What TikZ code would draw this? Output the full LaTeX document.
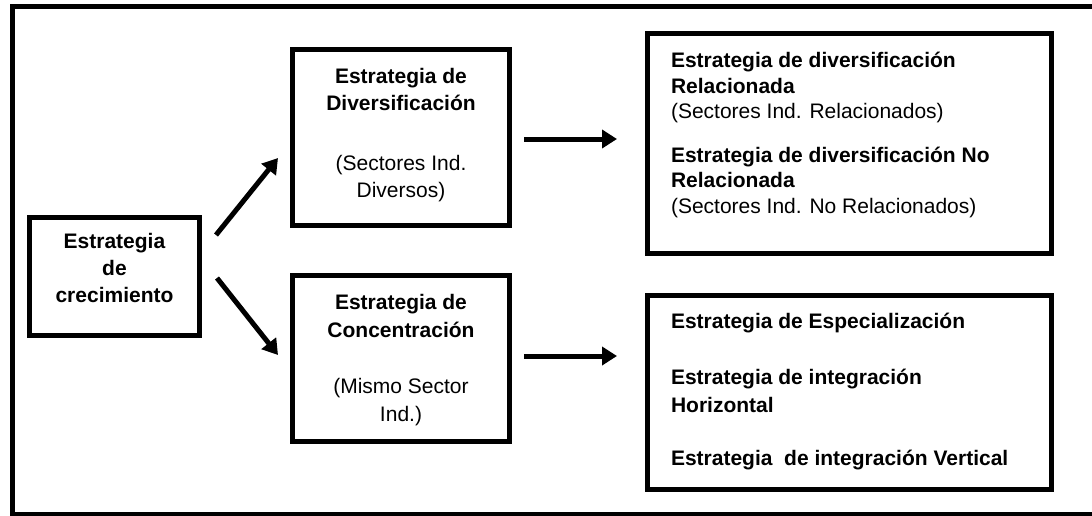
\documentclass[tikz,border=0pt]{standalone}
\usepackage{fontspec}
\setmainfont{Liberation Sans}
\usetikzlibrary{arrows.meta,calc}
\begin{document}
\begin{tikzpicture}[x=1pt,y=-1pt,
  box/.style={draw, line width=5pt, inner sep=0pt, outer sep=0pt},
  txt/.style={inner sep=0pt, outer sep=0pt, font=\fontsize{21}{27}\selectfont},
  arr/.style={line width=5pt, -{Triangle[length=15pt,width=18pt]}}]
\useasboundingbox (0,0) rectangle (1092,515);
\begin{scope}
\clip (0,0) rectangle (1092,515);
\draw[line width=5pt] (12.5,6.5) rectangle (1100,514);
\end{scope}
% boxes
\node[box, minimum width=170pt, minimum height=118pt] (start) at (114.5,276.5) {};
\node[box, minimum width=217pt, minimum height=176pt] (div) at (401,137.5) {};
\node[box, minimum width=217pt, minimum height=166pt] (conc) at (401,358.5) {};
\node[box, minimum width=403.5pt, minimum height=220pt] (rt) at (849.25,143.5) {};
\node[box, minimum width=403.5pt, minimum height=194pt] (rb) at (849.25,392.5) {};
% texts (anchor = baseline of the last line)
\node[txt, align=center, anchor=base] (tstart) at (114.5,302)
  {\textbf{Estrategia}\\\textbf{de}\\\textbf{crecimiento}};
\node[txt, align=center, anchor=base] (tdiv) at (401,197)
  {\textbf{Estrategia de}\\\textbf{Diversificación}\\[33pt](Sectores Ind.\\Diversos)};
\node[txt, align=center, anchor=base, font=\fontsize{21}{28}\selectfont] (tconc) at (401,421)
  {\textbf{Estrategia de}\\\textbf{Concentración}\\[28pt](Mismo Sector\\Ind.)};
\node[txt, align=left, anchor=base west, font=\fontsize{21}{25.5}\selectfont] (trt) at (671,213)
  {\textbf{Estrategia de diversificación}\\\textbf{Relacionada}\\(Sectores Ind. Relacionados)\\[18pt]%
   \textbf{Estrategia de diversificación No}\\\textbf{Relacionada}\\(Sectores Ind. No Relacionados)};
\node[txt, align=left, anchor=base west, font=\fontsize{21}{28}\selectfont] (trb) at (671,465)
  {\textbf{Estrategia de Especialización}\\[28pt]\textbf{Estrategia de integración}\\\textbf{Horizontal}\\[25pt]%
   \textbf{Estrategia\ \ de integración Vertical}};
% arrows
\draw[arr] ($(start.east)+(16.5,-41.5)$) -- ($(div.west)+(-14.5,20.5)$);
\draw[arr] ($(start.east)+(17.5,1.5)$) -- ($(conc.west)+(-14.5,-3.5)$);
\draw[arr] ($(div.east)+(14.5,1.5)$) -- ($(div.east -| rt.west)+(-30.5,1.5)$);
\draw[arr] ($(conc.east)+(14.5,-2.5)$) -- ($(conc.east -| rb.west)+(-30.5,-2.5)$);
\end{tikzpicture}
\end{document}
